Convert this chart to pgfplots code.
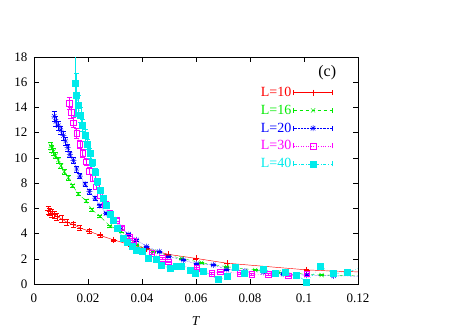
\documentclass[border=0pt]{standalone}
\usepackage{fontspec}
\setmainfont{Liberation Serif}
\usepackage{pgfplots}
\pgfplotsset{compat=1.18}
\definecolor{gred}{RGB}{255,0,0}
\definecolor{ggreen}{RGB}{0,235,0}
\definecolor{gblue}{RGB}{0,0,255}
\definecolor{gmag}{RGB}{255,0,255}
\definecolor{gcyan}{RGB}{0,235,235}
\pgfdeclareplotmark{gpstar}{%
  \pgfpathmoveto{\pgfqpoint{-\pgfplotmarksize}{0pt}}\pgfpathlineto{\pgfqpoint{\pgfplotmarksize}{0pt}}%
  \pgfpathmoveto{\pgfqpoint{0pt}{-\pgfplotmarksize}}\pgfpathlineto{\pgfqpoint{0pt}{\pgfplotmarksize}}%
  \pgfpathmoveto{\pgfqpoint{-0.75\pgfplotmarksize}{-0.75\pgfplotmarksize}}\pgfpathlineto{\pgfqpoint{0.75\pgfplotmarksize}{0.75\pgfplotmarksize}}%
  \pgfpathmoveto{\pgfqpoint{-0.75\pgfplotmarksize}{0.75\pgfplotmarksize}}\pgfpathlineto{\pgfqpoint{0.75\pgfplotmarksize}{-0.75\pgfplotmarksize}}%
  \pgfusepathqstroke}
\begin{document}
\begin{tikzpicture}
\begin{axis}[
  scale only axis, width=324pt, height=227pt,
  xmin=0, xmax=0.12, ymin=0, ymax=18,
  xtick={0,0.02,0.04,0.06,0.08,0.1,0.12},
  xticklabels={0,0.02,0.04,0.06,0.08,0.1,0.12},
  ytick={0,2,...,18},
  tick align=inside, major tick length=5pt,
  tick style={black, line width=0.5pt},
  axis line style={line width=0.6pt},
  /pgf/number format/assume math mode=true,
  tick label style={font=\fontsize{13}{15}\selectfont},
  xticklabel style={yshift=-6pt},
  yticklabel style={xshift=-3pt},
  xlabel={\textit{T}}, xlabel style={font=\fontsize{13.5}{15}\selectfont, yshift=-7pt},
  legend cell align=right, legend plot pos=right,
  legend style={draw=none, fill=none, at={(1,1)}, anchor=north east, xshift=-25pt, yshift=-28pt,
    font=\fontsize{14}{14}\selectfont, row sep=3pt, inner sep=0pt,
    /tikz/every even column/.append style={column sep=5pt}},
  legend image code/.code={%
    \draw[#1, mark=none] (0pt,0pt) -- (39pt,0pt);
    \draw[#1, mark=none, solid] (0pt,-2.5pt)--(0pt,2.5pt) (39pt,-2.5pt)--(39pt,2.5pt);
    \path[#1, only marks] plot coordinates {(19.5pt,0pt)};},
  every axis plot/.append style={line width=0.45pt},
  error bars/error bar style={line width=0.4pt, solid},
  error bars/error mark options={rotate=90, mark size=2.5pt, line width=0.4pt},
]
\coordinate (bl) at (rel axis cs:0,0);
% L=10
\addplot[gred, solid, mark=+, mark size=3pt, mark options={solid},
  error bars/.cd, y dir=both, y explicit] coordinates {
(0.0053,5.85) +- (0,0.3)
(0.0059,5.75) +- (0,0.3)
(0.0066,5.6) +- (0,0.3)
(0.0075,5.5) +- (0,0.3)
(0.0085,5.35) +- (0,0.28)
(0.0103,5.15) +- (0,0.27)
(0.0122,4.9) +- (0,0.25)
(0.0145,4.72) +- (0,0.22)
(0.017,4.45) +- (0,0.2)
(0.0205,4.18) +- (0,0.16)
(0.0245,3.85) +- (0,0.12)
(0.0295,3.5) +- (0,0.08)
(0.0349,3.15) +- (0,0.06)
(0.0417,2.8) +- (0,0.05)
(0.0498,2.35) +- (0,0.04)
(0.06,2.03) +- (0,0.03)
(0.0714,1.65) +- (0,0.03)
(0.101,1.12) +- (0,0.03)
};
\addlegendentry{\textcolor{gred}{L=10}}
% L=16
\addplot[ggreen, dashed, mark=x, mark size=3pt, mark options={solid},
  error bars/.cd, y dir=both, y explicit] coordinates {
(0.0062,10.95) +- (0,0.3)
(0.0066,10.75) +- (0,0.28)
(0.0072,10.5) +- (0,0.26)
(0.008,10.18) +- (0,0.24)
(0.009,9.83) +- (0,0.22)
(0.01,9.38) +- (0,0.2)
(0.0112,8.9) +- (0,0.18)
(0.0127,8.43) +- (0,0.16)
(0.0143,7.8) +- (0,0.14)
(0.0164,7.14) +- (0,0.12)
(0.0193,6.6) +- (0,0.1)
(0.0214,5.9) +- (0,0.1)
(0.0244,5.38) +- (0,0.08)
(0.0281,4.6) +- (0,0.07)
(0.0323,4.2) +- (0,0.06)
(0.038,3.1) +- (0,0.05)
(0.0442,2.56) +- (0,0.05)
(0.0547,2.03) +- (0,0.04)
(0.062,1.69) +- (0,0.04)
(0.0714,1.37) +- (0,0.04)
(0.0819,1.11) +- (0,0.03)
(0.0905,0.93) +- (0,0.03)
(0.1065,0.71) +- (0,0.03)
};
\addlegendentry{\textcolor{ggreen}{L=16}}
% L=20
\addplot[gblue, densely dotted, mark=gpstar, mark size=3pt, mark options={solid},
  error bars/.cd, y dir=both, y explicit] coordinates {
(0.0075,13.3) +- (0,0.4)
(0.0081,12.9) +- (0,0.38)
(0.009,12.55) +- (0,0.36)
(0.0099,12.2) +- (0,0.34)
(0.0109,11.76) +- (0,0.32)
(0.0117,11.34) +- (0,0.3)
(0.0125,10.81) +- (0,0.28)
(0.0133,10.28) +- (0,0.26)
(0.0146,9.78) +- (0,0.24)
(0.0158,9.12) +- (0,0.22)
(0.017,8.56) +- (0,0.2)
(0.0189,7.93) +- (0,0.18)
(0.0205,7.32) +- (0,0.16)
(0.0226,6.8) +- (0,0.14)
(0.0244,6.21) +- (0,0.12)
(0.0267,5.6) +- (0,0.1)
(0.0294,5.13) +- (0,0.1)
(0.0319,4.5) +- (0,0.08)
(0.035,3.94) +- (0,0.08)
(0.038,3.49) +- (0,0.07)
(0.0417,2.96) +- (0,0.06)
(0.0464,2.56) +- (0,0.05)
(0.05,2.17) +- (0,0.05)
(0.0553,1.9) +- (0,0.05)
(0.0602,1.59) +- (0,0.04)
(0.0664,1.51) +- (0,0.04)
(0.0714,1.16) +- (0,0.04)
(0.0781,1.03) +- (0,0.04)
(0.0849,0.93) +- (0,0.03)
(0.0923,0.79) +- (0,0.03)
(0.101,0.71) +- (0,0.03)
(0.111,0.65) +- (0,0.03)
(0.121,0.62) +- (0,0.03)
};
\addlegendentry{\textcolor{gblue}{L=20}}
% L=30
\addplot[gmag, dotted, mark=square, mark size=2.8pt, mark options={solid},
  error bars/.cd, y dir=both, y explicit] coordinates {
(0.0131,14.33) +- (0,0.5)
(0.0137,13.6) +- (0,0.45)
(0.0146,12.8) +- (0,0.4)
(0.0158,11.95) +- (0,0.38)
(0.017,11.08) +- (0,0.35)
(0.018,10.36) +- (0,0.32)
(0.0193,9.7) +- (0,0.3)
(0.0205,8.96) +- (0,0.28)
(0.0217,8.38) +- (0,0.25)
(0.023,7.72) +- (0,0.22)
(0.0244,7.0) +- (0,0.2)
(0.0263,6.34) +- (0,0.18)
(0.0281,5.6) +- (0,0.15)
(0.0306,5.08) +- (0,0.13)
(0.0325,4.45) +- (0,0.12)
(0.0353,3.7) +- (0,0.1)
(0.0368,3.4) +- (0,0.1)
(0.0436,2.43) +- (0,0.08)
(0.0475,2.05) +- (0,0.07)
(0.0498,1.77) +- (0,0.07)
(0.0541,1.45) +- (0,0.06)
(0.0602,1.24) +- (0,0.06)
(0.0658,0.85) +- (0,0.05)
(0.0689,0.98) +- (0,0.05)
(0.0763,0.85) +- (0,0.05)
(0.0806,0.77) +- (0,0.05)
(0.0868,0.77) +- (0,0.05)
(0.0942,0.65) +- (0,0.05)
(0.101,0.82) +- (0,0.05)
};
\addlegendentry{\textcolor{gmag}{L=30}}
% L=40
\addplot[gcyan, dash dot, mark=square*, mark size=3pt, mark options={solid},
  error bars/.cd, y dir=both, y explicit] coordinates {
(0.0152,15.9) +- (0,2.6)
(0.0158,15.0) +- (0,1.7)
(0.0164,14.2) +- (0,0.8)
(0.0173,13.4) +- (0,0.6)
(0.018,12.6) +- (0,0.5)
(0.019,11.8) +- (0,0.5)
(0.0197,11.05) +- (0,0.4)
(0.0207,10.36) +- (0,0.4)
(0.0217,9.62) +- (0,0.3)
(0.0226,8.9) +- (0,0.3)
(0.0234,8.11) +- (0,0.3)
(0.0247,7.45) +- (0,0.25)
(0.0257,6.84) +- (0,0.2)
(0.0269,6.21) +- (0,0.2)
(0.0281,5.55) +- (0,0.15)
(0.0294,5.08) +- (0,0.15)
(0.0309,4.41) +- (0,0.12)
(0.0331,3.62) +- (0,0.1)
(0.0345,3.3) +- (0,0.1)
(0.0362,2.96) +- (0,0.1)
(0.038,2.7) +- (0,0.1)
(0.0399,2.56) +- (0,0.1)
(0.0423,2.03) +- (0,0.1)
(0.0452,1.95) +- (0,0.1)
(0.0473,1.5) +- (0,0.1)
(0.0504,1.24) +- (0,0.1)
(0.0528,1.37) +- (0,0.1)
(0.0547,1.43) +- (0,0.1)
(0.0578,1.11) +- (0,0.1)
(0.0596,0.85) +- (0,0.1)
(0.0627,1.05) +- (0,0.1)
(0.0683,0.35) +- (0,0.1)
(0.0714,0.58) +- (0,0.1)
(0.0744,1.32) +- (0,0.1)
(0.078,0.85) +- (0,0.1)
(0.085,1.19) +- (0,0.1)
(0.0893,0.85) +- (0,0.1)
(0.093,0.9) +- (0,0.1)
(0.0973,0.71) +- (0,0.1)
(0.101,0.18) +- (0,0.1)
(0.106,1.37) +- (0,0.1)
(0.111,0.85) +- (0,0.1)
(0.116,0.9) +- (0,0.1)
(0.122,1.4) +- (0,0.1)
};
\addlegendentry{\textcolor{gcyan}{L=40}}
% fitted curves continuing to the right edge
\addplot[gred, solid, no marks, forget plot] coordinates {(0.101,1.12) (0.11,1.03) (0.12,0.96)};
\addplot[ggreen, dashed, no marks, forget plot] coordinates {(0.1065,0.71) (0.12,0.67)};
\node[font=\fontsize{16}{16}\selectfont] at (rel axis cs:0.905,0.93) {(c)};
\node[anchor=east, font=\fontsize{13}{15}\selectfont] at (rel axis cs:0,0.546) [xshift=-22pt] {$\chi_{SG}$};
\end{axis}
\pgfresetboundingbox
\path[use as bounding box] ([shift={(-34pt,-43pt)}]bl) rectangle ++(467pt,327pt);
\end{tikzpicture}
\end{document}
